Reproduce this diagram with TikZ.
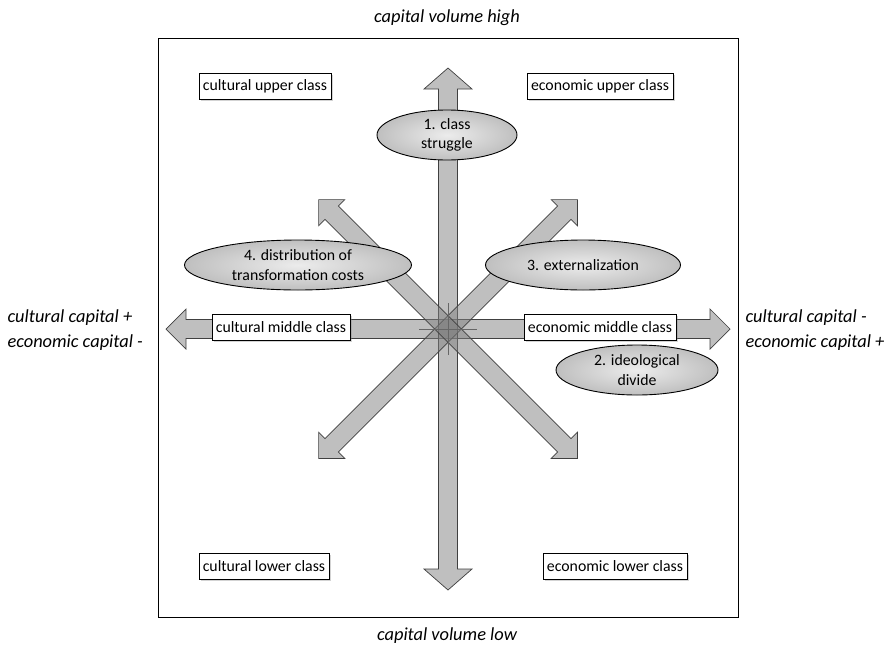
\documentclass[tikz,border=0pt]{standalone}
\usepackage{fontspec}
\setmainfont{Carlito}
\usetikzlibrary{shadows, shapes.geometric}

\begin{document}
\begin{tikzpicture}[x=1pt, y=-1pt,
    classbox/.style={draw, fill=white, line width=0.6pt, inner xsep=4pt, inner ysep=0pt, minimum height=26pt, font=\fontsize{15.8}{19}\selectfont, drop shadow={shadow xshift=2pt, shadow yshift=-2pt, opacity=0.35}},
    effect/.style={ellipse, draw, line width=0.9pt, inner color=gray!15, outer color=gray!50, minimum height=50pt, align=center, inner sep=0pt, font=\fontsize{15.8}{19.5}\selectfont},
    axislabel/.style={font=\fontsize{18.4}{25}\selectfont\itshape, align=left},
    bigarrow/.style={fill=black!50, fill opacity=0.5, draw=black!75, line width=0.7pt, line join=miter}]
    \useasboundingbox (0,0) rectangle (894,646);
    \draw[line width=0.8pt] (158,38) rectangle (738,617);
    \coordinate (c) at (448,329);

    % double arrows: angle / half length / head half width / head length
    \foreach \ang/\len/\hw/\hl in {0/282/20/20, 90/261/24/21, 45/183/18.5/18.5, 135/183/18.5/18.5} {
        \draw[bigarrow, shift={(c)}, rotate=\ang]
            (-\len,0) -- ({-\len+\hl},\hw) -- ({-\len+\hl},9.5) -- ({\len-\hl},9.5) -- ({\len-\hl},\hw) -- (\len,0)
            -- ({\len-\hl},-\hw) -- ({\len-\hl},-9.5) -- ({-\len+\hl},-9.5) -- ({-\len+\hl},-\hw) -- cycle;
    }
    \draw[black!60, line width=0.5pt] ([xshift=-29pt]c) -- ([xshift=29pt]c);
    \draw[black!60, line width=0.5pt] ([yshift=-26pt]c) -- ([yshift=26pt]c);

    \node[axislabel] (high) at (447,18) {capital volume high};
    \node[axislabel] (low) at (447,636) {capital volume low};
    \node[axislabel, anchor=west] (left) at (4,330) {cultural capital +\\economic capital -};
    \node[axislabel, anchor=west] (right) at (742,330) {cultural capital -\\economic capital +};

    \foreach \x/\y/\name/\txt in {265/86/cu/cultural upper class, 600/86/eu/economic upper class,
        281/327/cm/cultural middle class, 600/327/em/economic middle class,
        264/566/cl/cultural lower class, 615/566/el/economic lower class} {
        \node[classbox] (\name) at (\x,\y) {\txt};
    }

    \node[effect, minimum width=140pt] (struggle) at (447,135) {1. class\\struggle};
    \node[effect, minimum width=162pt] (divide) at (637,370) {2. ideological\\divide};
    \node[effect, minimum width=195pt] (extern) at (583,265) {3. externalization};
    \node[effect, minimum width=227pt] (costs) at (298,265) {4. distribution of\\transformation costs};
\end{tikzpicture}
\end{document}
